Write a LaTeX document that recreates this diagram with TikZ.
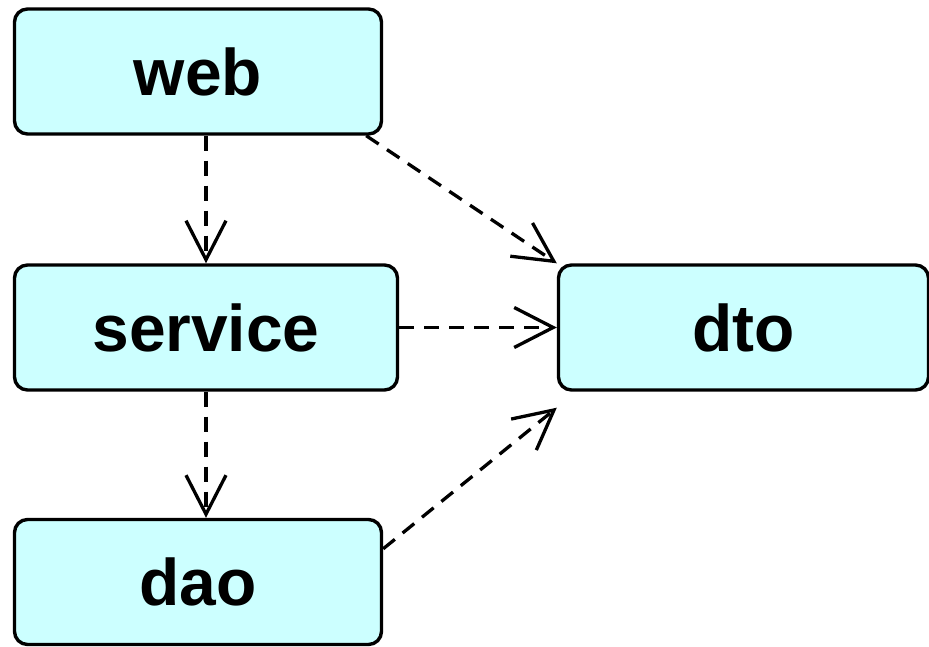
\documentclass[tikz,border=0pt]{standalone}
\usepackage{fontspec}
\setmainfont{Liberation Sans}
\usetikzlibrary{arrows.meta}
\definecolor{boxcyan}{HTML}{CCFFFF}

\begin{document}
\begin{tikzpicture}[
  layer/.style={rectangle, rounded corners=0.26cm, draw, line width=0.068cm, fill=boxcyan,
    minimum height=2.5cm, font=\fontsize{37.5}{45}\selectfont\bfseries},
  uses/.style={-{Straight Barb[length=0.78cm, width=0.8cm]}, line width=0.066cm,
    dash pattern=on 0.3cm off 0.2cm}
]

  \useasboundingbox (0,0) rectangle (18.58,-12.94);

  % Layers
  \node[layer, minimum width=7.34cm] (web) at (3.96,-1.43) {web};
  \node[layer, minimum width=7.66cm] (service) at (4.12,-6.55) {service};
  \node[layer, minimum width=7.34cm] (dao) at (3.96,-11.64) {dao};

  % Shared objects
  \node[layer, minimum width=7.40cm] (dto) at (14.87,-6.55) {dto};

  % Dependencies
  \draw[uses] (web.south -| service.north) -- (service.north);
  \draw[uses] (service.south) -- (service.south |- dao.north);
  \draw[uses] ([xshift=-0.34cm]web.south east) -- (dto.north west);
  \draw[uses] (service) -- (dto);
  \draw[uses] ([yshift=-0.62cm]dao.north east) -- ([yshift=-0.32cm]dto.south west);

\end{tikzpicture}
\end{document}
